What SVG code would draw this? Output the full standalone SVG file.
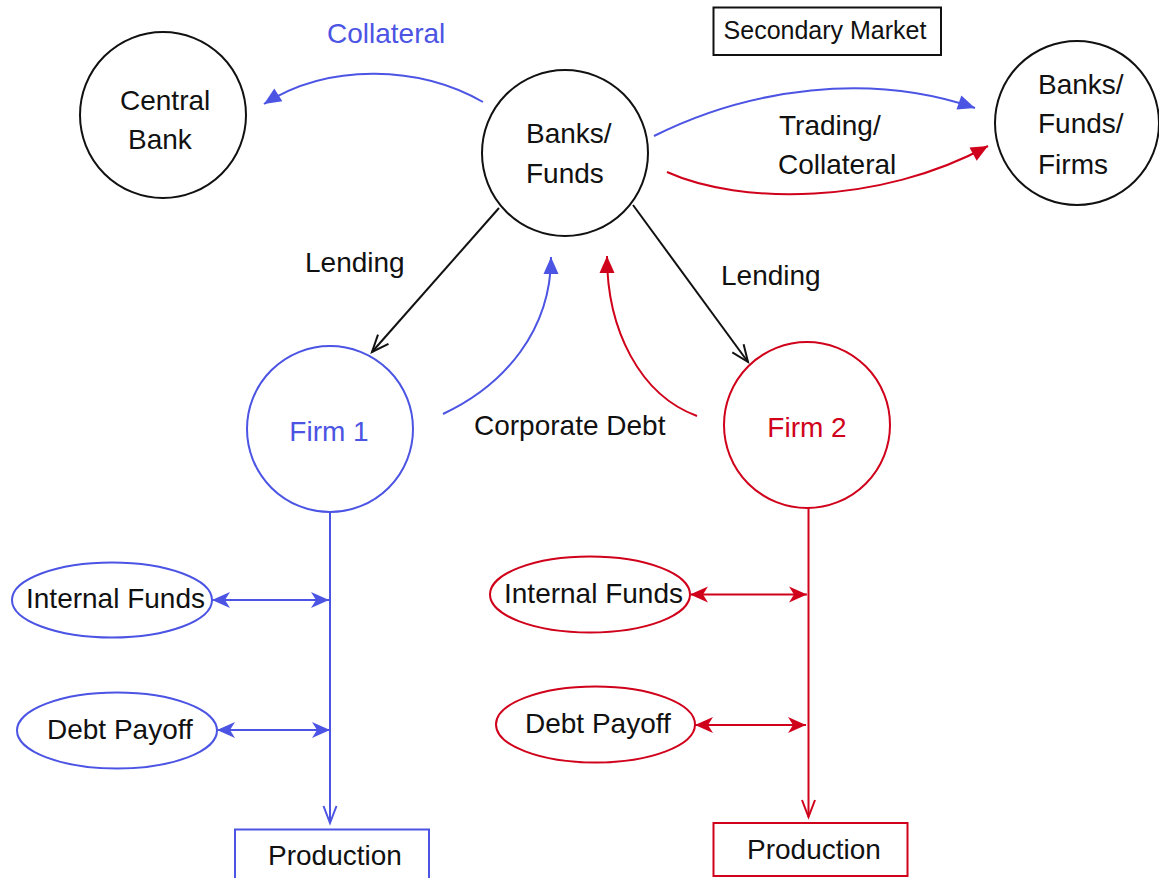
<svg xmlns="http://www.w3.org/2000/svg" width="1159" height="878" viewBox="0 0 1159 878">
  <style>
    text { font-family: "Liberation Sans", Arial, sans-serif; font-size: 28px; fill: #111; }
    .blue-t { fill: #4C54E4; }
    .red-t { fill: #D0021B; }
    .node { fill: #fff; stroke: #111; stroke-width: 2; }
    .bnode { fill: #fff; stroke: #4C54E4; stroke-width: 2; }
    .rnode { fill: #fff; stroke: #D0021B; stroke-width: 2; }
    .c { fill: none; stroke-width: 2; }
    .k { stroke: #111; }
    .b { stroke: #4C54E4; }
    .r { stroke: #D0021B; }
  </style>
  <defs>
    <marker id="blockB" markerUnits="userSpaceOnUse" markerWidth="20" markerHeight="18" refX="17" refY="7.5" orient="auto" overflow="visible">
      <path d="M0,0 L17,7.5 L0,15 z" fill="#4C54E4"/>
    </marker>
    <marker id="blockR" markerUnits="userSpaceOnUse" markerWidth="20" markerHeight="18" refX="17" refY="7.5" orient="auto" overflow="visible">
      <path d="M0,0 L17,7.5 L0,15 z" fill="#D0021B"/>
    </marker>
    <marker id="openK" markerUnits="userSpaceOnUse" markerWidth="20" markerHeight="18" refX="17" refY="7" orient="auto" overflow="visible">
      <path d="M0,0 L17,7 L0,14" fill="none" stroke="#111" stroke-width="2"/>
    </marker>
    <marker id="openB" markerUnits="userSpaceOnUse" markerWidth="20" markerHeight="18" refX="17" refY="6.5" orient="auto" overflow="visible">
      <path d="M0,0 L17,6.5 L0,13" fill="none" stroke="#4C54E4" stroke-width="2"/>
    </marker>
    <marker id="openR" markerUnits="userSpaceOnUse" markerWidth="20" markerHeight="18" refX="17" refY="6.5" orient="auto" overflow="visible">
      <path d="M0,0 L17,6.5 L0,13" fill="none" stroke="#D0021B" stroke-width="2"/>
    </marker>
    <marker id="classicB" markerUnits="userSpaceOnUse" markerWidth="20" markerHeight="18" refX="18" refY="8" orient="auto-start-reverse" overflow="visible">
      <path d="M0,0 L18,8 L0,16 L5,8 z" fill="#4C54E4"/>
    </marker>
    <marker id="classicR" markerUnits="userSpaceOnUse" markerWidth="20" markerHeight="18" refX="18" refY="8" orient="auto-start-reverse" overflow="visible">
      <path d="M0,0 L18,8 L0,16 L5,8 z" fill="#D0021B"/>
    </marker>
  </defs>

  <g id="connectors">
    <!-- Collateral to central bank -->
    <path class="c b" d="M483,102 C420,66 330,62 264,104" marker-end="url(#blockB)"/>
    <!-- Trading / collateral -->
    <path class="c b" d="M654,136 C750,88 870,72 975,108" marker-end="url(#blockB)"/>
    <path class="c r" d="M667,172 C740,205 880,205 988,146" marker-end="url(#blockR)"/>
    <!-- Lending -->
    <path class="c k" d="M499,208 L372,352" marker-end="url(#openK)"/>
    <path class="c k" d="M633,205 L748,362" marker-end="url(#openK)"/>
    <!-- Corporate debt -->
    <path class="c b" d="M443,414 C505,385 551,330 551,257" marker-end="url(#blockB)"/>
    <path class="c r" d="M697,416 C640,395 607,330 607,256" marker-end="url(#blockR)"/>
    <!-- Firm 1 vertical -->
    <path class="c b" d="M330,512 L330,823" marker-end="url(#openB)"/>
    <path class="c b" d="M212,600 L329,600" marker-start="url(#classicB)" marker-end="url(#classicB)"/>
    <path class="c b" d="M217,730 L330,730" marker-start="url(#classicB)" marker-end="url(#classicB)"/>
    <!-- Firm 2 vertical -->
    <path class="c r" d="M808.5,507 L808.5,817" marker-end="url(#openR)"/>
    <path class="c r" d="M690,594.5 L807,594.5" marker-start="url(#classicR)" marker-end="url(#classicR)"/>
    <path class="c r" d="M695,725 L806,725" marker-start="url(#classicR)" marker-end="url(#classicR)"/>
  </g>

  <g id="label-collateral">
    <text class="blue-t" x="327" y="43">Collateral</text>
  </g>
  <g id="label-trading">
    <text x="779" y="135">Trading/</text>
    <text x="778" y="174">Collateral</text>
  </g>
  <g id="label-lending-left">
    <text x="305" y="272">Lending</text>
  </g>
  <g id="label-lending-right">
    <text x="721" y="285">Lending</text>
  </g>
  <g id="label-corporate-debt">
    <text x="474" y="435">Corporate Debt</text>
  </g>

  <g id="central-bank">
    <circle class="node" cx="163" cy="115" r="83"/>
    <text x="120" y="110">Central</text>
    <text x="128" y="149">Bank</text>
  </g>

  <g id="banks-funds">
    <circle class="node" cx="565" cy="153" r="83"/>
    <text x="526" y="143">Banks/</text>
    <text x="526" y="183">Funds</text>
  </g>

  <g id="secondary-market">
    <rect x="713.5" y="7.5" width="227.5" height="47.5" fill="#fff" stroke="#111" stroke-width="2"/>
    <text x="825" y="39" text-anchor="middle" style="font-size:25px">Secondary Market</text>
  </g>

  <g id="banks-funds-firms">
    <circle class="node" cx="1077" cy="123" r="82"/>
    <text x="1038" y="94">Banks/</text>
    <text x="1038" y="133">Funds/</text>
    <text x="1038" y="174">Firms</text>
  </g>

  <g id="firm1">
    <circle class="bnode" cx="330" cy="429" r="83"/>
    <text class="blue-t" x="329" y="441" text-anchor="middle">Firm 1</text>
  </g>

  <g id="firm2">
    <circle class="rnode" cx="807" cy="425" r="83"/>
    <text class="red-t" x="807" y="437" text-anchor="middle">Firm 2</text>
  </g>

  <g id="internal-funds-1">
    <ellipse class="bnode" cx="112" cy="600" rx="100" ry="37.5"/>
    <text x="26" y="608">Internal Funds</text>
  </g>

  <g id="debt-payoff-1">
    <ellipse class="bnode" cx="117" cy="730.5" rx="100" ry="38"/>
    <text x="47" y="739">Debt Payoff</text>
  </g>

  <g id="internal-funds-2">
    <ellipse class="rnode" cx="590" cy="594.5" rx="100" ry="38"/>
    <text x="504" y="603">Internal Funds</text>
  </g>

  <g id="debt-payoff-2">
    <ellipse class="rnode" cx="595.5" cy="724.5" rx="99.5" ry="38"/>
    <text x="525" y="733">Debt Payoff</text>
  </g>

  <g id="production-1">
    <rect x="235" y="829.5" width="194" height="70" fill="#fff" stroke="#4C54E4" stroke-width="2"/>
    <text x="268" y="865">Production</text>
  </g>

  <g id="production-2">
    <rect x="713.5" y="823" width="194" height="53" fill="#fff" stroke="#D0021B" stroke-width="2"/>
    <text x="747" y="859">Production</text>
  </g>
</svg>
